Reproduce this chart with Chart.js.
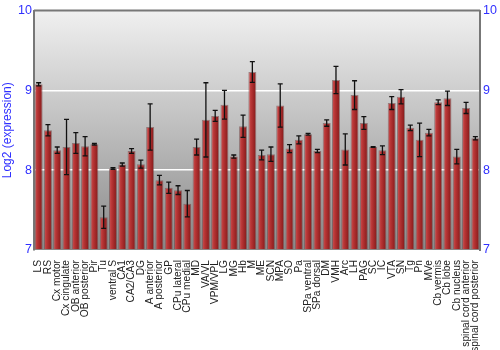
<!DOCTYPE html>
<html><head><meta charset="utf-8">
<script src="https://cdn.jsdelivr.net/npm/chart.js@4/dist/chart.umd.min.js"></script>
<style>html,body{margin:0;padding:0;background:#fff}#wrap{width:500px;height:350px}</style>
</head><body><div id="wrap"><canvas id="c"></canvas></div>
<script>
const categories = ["LS","RS","Cx motor","Cx cingulate","OB anterior","OB posterior","Pir","Tu","ventral S","CA1","CA2/CA3","DG","A anterior","A posterior","GP","CPu lateral","CPu medial","MD","VA/VL","VPM/VPL","LG","MG","Hb","M","ME","SCN","MPA","SO","Pa","SPa ventral","SPa dorsal","DM","VMH","Arc","LH","PAG","SC","IC","VTA","SN","Tg","Pn","MVe","Cb vermis","Cb lobe","Cb nucleus","spinal cord anterior","spinal cord posterior"];
const values = [9.075,8.50,8.25,8.29,8.34,8.30,8.325,7.41,8.02,8.07,8.24,8.075,8.54,7.875,7.78,7.75,7.58,8.29,8.63,8.68,8.82,8.17,8.55,9.23,8.19,8.20,8.81,8.27,8.38,8.45,8.24,8.59,9.13,8.26,8.94,8.59,8.29,8.25,8.84,8.92,8.53,8.38,8.47,8.85,8.90,8.17,8.78,8.40];
const errors = [0.02,0.07,0.04,0.345,0.13,0.12,0.01,0.14,0.01,0.02,0.03,0.05,0.29,0.06,0.07,0.055,0.165,0.10,0.465,0.07,0.18,0.02,0.14,0.13,0.06,0.09,0.27,0.05,0.05,0.01,0.02,0.04,0.17,0.195,0.18,0.08,0.005,0.055,0.08,0.09,0.035,0.21,0.04,0.03,0.09,0.09,0.07,0.02];
const yTicks = [7,8,9,10];
const yTitle = "Log2 (expression)";

const BLUE = '#2f2fff';
const FONT = '"Liberation Sans", Arial, sans-serif';

const bgPlugin = {
  id: 'bg',
  beforeDraw(chart) {
    const {ctx, chartArea: a} = chart;
    const g = ctx.createLinearGradient(0, a.top, 0, a.bottom);
    g.addColorStop(0, '#f0f0f0');
    g.addColorStop(1, '#8a8a8a');
    ctx.save();
    ctx.fillStyle = g;
    ctx.fillRect(a.left, a.top, a.right - a.left, a.bottom - a.top);
    ctx.restore();
  },
  afterDraw(chart) {
    const {ctx, chartArea: a} = chart;
    ctx.save();
    ctx.strokeStyle = '#777';
    ctx.lineWidth = 2;
    ctx.beginPath();
    ctx.moveTo(a.left, a.top);
    ctx.lineTo(a.right, a.top);
    ctx.stroke();
    ctx.restore();
  }
};

const errPlugin = {
  id: 'errbars',
  afterDatasetsDraw(chart) {
    const {ctx} = chart;
    const meta = chart.getDatasetMeta(0);
    const ys = chart.scales.y;
    ctx.save();
    ctx.strokeStyle = '#111';
    ctx.lineWidth = 1.3;
    meta.data.forEach((bar, i) => {
      const x = bar.x;
      const t = ys.getPixelForValue(values[i] + errors[i]);
      const b = ys.getPixelForValue(values[i] - errors[i]);
      ctx.beginPath();
      ctx.moveTo(x, t); ctx.lineTo(x, b);
      ctx.moveTo(x - 2.5, t); ctx.lineTo(x + 2.5, t);
      ctx.moveTo(x - 2.5, b); ctx.lineTo(x + 2.5, b);
      ctx.stroke();
    });
    ctx.restore();
  }
};

function barFill(context) {
  const chart = context.chart;
  const xs = chart.scales.x;
  if (!xs || !chart.chartArea) return '#b03030';
  const cx = xs.getPixelForValue(context.dataIndex);
  const w = (chart.chartArea.right - chart.chartArea.left) / categories.length * 0.86;
  const g = chart.ctx.createLinearGradient(cx - w / 2, 0, cx + w / 2, 0);
  g.addColorStop(0, '#cc5656');
  g.addColorStop(0.35, '#b83535');
  g.addColorStop(1, '#821818');
  return g;
}

new Chart(document.getElementById('c'), {
  type: 'bar',
  data: {
    labels: categories,
    datasets: [{
      data: values,
      base: 7,
      backgroundColor: barFill,
      borderColor: 'rgba(110,60,60,0.55)',
      borderWidth: 1,
      barPercentage: 0.86,
      categoryPercentage: 1
    }]
  },
  options: {
    responsive: true,
    maintainAspectRatio: false,
    animation: false,
    layout: {padding: {top: 10, left: 0, right: 0, bottom: 0}},
    plugins: {legend: {display: false}, tooltip: {enabled: false}},
    scales: {
      x: {
        grid: {display: false},
        border: {display: false},
        ticks: {
          autoSkip: false, maxRotation: 90, minRotation: 90,
          color: '#222', padding: 2,
          font: {family: FONT, size: 10.2}
        },
        afterFit(s) { s.height = 100; }
      },
      y: {
        position: 'left',
        min: 7, max: 10,
        afterBuildTicks(s) { s.ticks = yTicks.map(v => ({value: v})); },
        grid: {
          color: c => (c.tick && (c.tick.value === 8 || c.tick.value === 9)) ? '#ffffff' : 'rgba(0,0,0,0)',
          lineWidth: 1.5,
          drawTicks: false
        },
        border: {display: true, color: '#777', width: 2},
        ticks: {color: BLUE, padding: 2, font: {family: FONT, size: 12.5}},
        title: {display: true, text: yTitle, color: BLUE, padding: 0, font: {family: FONT, size: 12}},
        afterFit(s) { s.width = 34; }
      },
      y2: {
        position: 'right',
        min: 7, max: 10,
        afterBuildTicks(s) { s.ticks = yTicks.map(v => ({value: v})); },
        grid: {display: false, drawOnChartArea: false, drawTicks: false},
        border: {display: true, color: '#777', width: 2},
        ticks: {color: BLUE, padding: 3, font: {family: FONT, size: 12.5}},
        afterFit(s) { s.width = 20; }
      }
    }
  },
  plugins: [bgPlugin, errPlugin]
});
</script>
</body></html>
